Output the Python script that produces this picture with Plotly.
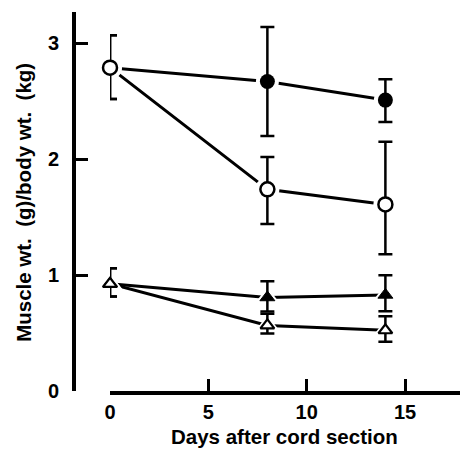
import plotly.graph_objects as go

# ---- data ----
days = [0, 8, 14]

filled_circle = [2.79, 2.67, 2.51]
filled_circle_plus = [0.28, 0.47, 0.18]
filled_circle_minus = [0.27, 0.47, 0.19]

open_circle = [2.79, 1.74, 1.61]
open_circle_plus = [0.28, 0.28, 0.54]
open_circle_minus = [0.27, 0.30, 0.43]

filled_triangle = [0.925, 0.807, 0.829]
filled_triangle_plus = [0.135, 0.14, 0.17]
filled_triangle_minus = [0.11, 0.12, 0.14]

open_triangle = [0.925, 0.566, 0.524]
open_triangle_plus = [0.135, 0.10, 0.12]
open_triangle_minus = [0.11, 0.07, 0.10]

x_ticks = [0, 5, 10, 15]
y_ticks = [0, 1, 2, 3]

x_title = "Days after cord section"
y_title = "Muscle wt.\u00a0 (g)/body wt.\u00a0 (kg)"

FONT = "Liberation Sans, Arial, Helvetica, sans-serif"

series = [
    # (values, plus, minus, symbol, fill, halo size, marker size, outline)
    (filled_circle, filled_circle_plus, filled_circle_minus, "circle", "black", 23, 15, 0),
    (filled_triangle, filled_triangle_plus, filled_triangle_minus, "triangle-up", "black", 21, 13, 1),
    (open_circle, open_circle_plus, open_circle_minus, "circle", "white", 24, 14, 2.5),
    (open_triangle, open_triangle_plus, open_triangle_minus, "triangle-up", "white", 21, 12, 2.2),
]

fig = go.Figure()

# connecting lines
for vals, p, m, sym, fill, halo, size, ol in series:
    fig.add_trace(go.Scatter(x=days, y=vals, mode="lines",
                             line=dict(color="black", width=3),
                             hoverinfo="skip", showlegend=False))

# white halos that open small gaps between lines and markers
for vals, p, m, sym, fill, halo, size, ol in series:
    fig.add_trace(go.Scatter(x=days, y=vals, mode="markers", cliponaxis=False,
                             marker=dict(symbol=sym, size=halo, color="white",
                                         line=dict(width=0)),
                             hoverinfo="skip", showlegend=False))

# markers with error bars
for vals, p, m, sym, fill, halo, size, ol in series:
    fig.add_trace(go.Scatter(
        x=days, y=vals, mode="markers", cliponaxis=False,
        marker=dict(symbol=sym, size=size, color=fill,
                    line=dict(color="black", width=ol)),
        error_y=dict(type="data", symmetric=False, array=p, arrayminus=m,
                     color="black", thickness=2.5, width=7),
        showlegend=False))

# the page adds an 8px body margin, so the figure is 8px smaller and shifted
fig.update_layout(
    width=460, height=443,
    margin=dict(l=66, r=0, t=4, b=60),
    paper_bgcolor="white", plot_bgcolor="white",
    font=dict(family=FONT, color="black", size=20),
    xaxis=dict(domain=[0.0914, 1], range=[0, 18.2],
               tickvals=x_ticks, ticks="inside", ticklen=12, tickwidth=3,
               tickcolor="black", showline=True, linewidth=4, linecolor="black",
               showgrid=False, zeroline=False,
               tickfont=dict(family=FONT, size=20, weight="bold")),
    yaxis=dict(anchor="free", position=0, range=[0, 3.27],
               tickvals=y_ticks, ticks="inside", ticklen=12, tickwidth=3,
               tickcolor="black", showline=True, linewidth=4, linecolor="black",
               showgrid=False, zeroline=False,
               tickfont=dict(family=FONT, size=20, weight="bold"),
               ticklabelstandoff=9),
    annotations=[
        dict(text=x_title, xref="paper", yref="paper", x=0.5355, y=-0.121,
             xanchor="center", yanchor="middle", showarrow=False,
             font=dict(family=FONT, size=20.5, weight="bold")),
        dict(text=y_title, xref="paper", yref="paper", x=-0.127, y=0.499,
             xanchor="center", yanchor="middle", showarrow=False, textangle=-90,
             font=dict(family=FONT, size=20.5, weight="bold")),
    ],
)

fig.write_html("out.html")
